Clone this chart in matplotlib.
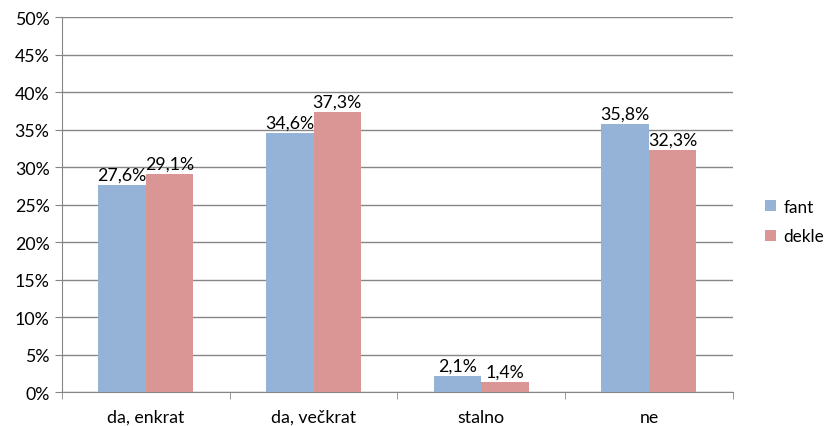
import matplotlib.pyplot as plt
import numpy as np

categories = ["da, enkrat", "da, večkrat", "stalno", "ne"]
fant = [27.6, 34.6, 2.1, 35.8]
dekle = [29.1, 37.3, 1.4, 32.3]
series_names = ["fant", "dekle"]

plt.rcParams['font.family'] = ['Lato', 'DejaVu Sans']

fig = plt.figure(figsize=(8.27, 4.27), dpi=100)
ax = fig.add_axes([0.075, 0.0796, 0.811, 0.878])

x = np.arange(len(categories))
w = 0.283
grid_c = "#868686"
fs = 12.8

b1 = ax.bar(x - w/2, fant, w, color="#95B3D7", label=series_names[0], zorder=3)
b2 = ax.bar(x + w/2, dekle, w, color="#D99694", label=series_names[1], zorder=3)

for bars, vals in [(b1, fant), (b2, dekle)]:
    for r, v in zip(bars, vals):
        ax.text(r.get_x() + r.get_width()/2, v + 0.3, f"{v:.1f}%".replace(".", ","),
                ha="center", va="bottom", fontsize=fs, color="black", zorder=4)

ax.set_xlim(-0.5, len(categories) - 0.5)
ax.set_ylim(0, 50)
ax.set_yticks(np.arange(0, 51, 5))
ax.set_yticklabels([f"{t}%" for t in range(0, 51, 5)])
ax.yaxis.grid(True, color=grid_c, linewidth=1)
ax.set_axisbelow(True)

ax.set_xticks(x)
ax.set_xticklabels(categories)
ax.set_xticks(np.arange(-0.5, len(categories)), minor=True)
ax.tick_params(axis="x", which="major", length=0, pad=12, labelsize=fs)
ax.tick_params(axis="x", which="minor", length=5, color=grid_c, direction="out")
ax.tick_params(axis="y", length=5, color=grid_c, labelsize=fs, pad=4)

for s in ["top", "right"]:
    ax.spines[s].set_visible(False)
ax.spines["left"].set_color(grid_c)
ax.spines["bottom"].set_color(grid_c)

ax.legend(loc="center left", bbox_to_anchor=(1.03, 0.455), frameon=False,
          fontsize=12.3, handlelength=0.65, handleheight=0.65, labelspacing=0.8,
          handletextpad=0.45, borderaxespad=0.3)

plt.savefig("out.png", dpi=100)
